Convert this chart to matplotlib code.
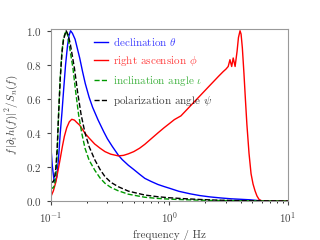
import matplotlib
matplotlib.use("Agg")
import matplotlib.pyplot as plt

plt.rcParams['font.family'] = 'serif'
plt.rcParams['font.serif'] = ['cmr10', 'DejaVu Serif']
plt.rcParams['mathtext.fontset'] = 'cm'
plt.rcParams['axes.formatter.use_mathtext'] = True
plt.rcParams['axes.unicode_minus'] = False

# declination theta
f_dec = [0.1, 0.103, 0.106, 0.109, 0.112, 0.116, 0.12, 0.124, 0.128, 0.133, 0.138, 0.142,
         0.1466, 0.152, 0.16, 0.168, 0.175, 0.185, 0.195, 0.21, 0.225, 0.25, 0.28,
         0.3, 0.33, 0.37, 0.4, 0.45, 0.5, 0.56, 0.62, 0.7, 0.8, 0.9, 1.0, 1.2, 1.5,
         1.8, 2.2, 2.7, 3.3, 4.0, 4.8, 5.5, 6.5, 10.0]
v_dec = [0.32, 0.2, 0.13, 0.11, 0.14, 0.25, 0.4, 0.52, 0.65, 0.8, 0.91, 0.97,
         1.0, 0.985, 0.95, 0.89, 0.84, 0.76, 0.69, 0.61, 0.55, 0.476, 0.405,
         0.365, 0.32, 0.27, 0.243, 0.21, 0.185, 0.157, 0.133, 0.115, 0.097, 0.085, 0.075, 0.057, 0.042,
         0.032, 0.024, 0.018, 0.013, 0.01, 0.007, 0.003, 0.001, 0.0]

# right ascension phi
f_ra = [0.1, 0.105, 0.11, 0.115, 0.12, 0.125, 0.13, 0.136, 0.143, 0.15, 0.158, 0.166,
        0.175, 0.194, 0.21, 0.234, 0.26, 0.286, 0.32, 0.37, 0.41, 0.45, 0.5, 0.56, 0.62,
        0.7, 0.8, 0.9, 1.0, 1.1, 1.25, 1.5, 1.8, 2.2, 2.6, 2.84, 3.0, 3.13, 3.24, 3.35, 3.45, 3.58,
        3.72, 3.82, 3.94, 4.02, 4.12, 4.25, 4.37, 4.5, 4.69, 4.88, 5.07, 5.27, 5.47, 5.69,
        6.0, 10.0]
v_ra = [0.025, 0.06, 0.11, 0.18, 0.25, 0.32, 0.38, 0.43, 0.465, 0.48, 0.475, 0.46,
        0.445, 0.398, 0.37, 0.335, 0.31, 0.29, 0.275, 0.265, 0.268, 0.277, 0.29, 0.31, 0.333,
        0.365, 0.4, 0.43, 0.455, 0.478, 0.5, 0.558, 0.616, 0.68, 0.733, 0.76, 0.775, 0.79, 0.83, 0.79, 0.84, 0.79,
        0.88, 0.96, 1.0, 0.98, 0.9, 0.75, 0.6, 0.45, 0.28, 0.16, 0.1, 0.06, 0.03, 0.01,
        0.0, 0.0]

# inclination angle iota
f_inc = [0.1, 0.104, 0.107, 0.11, 0.113, 0.116, 0.12, 0.124, 0.128, 0.1345, 0.139, 0.144,
         0.1535, 0.162, 0.1714, 0.182, 0.194, 0.21, 0.235, 0.26, 0.286, 0.32, 0.37,
         0.45, 0.62, 0.8, 1.0, 1.3, 1.8, 2.5, 4.0, 6.0, 10.0]
v_inc = [0.08, 0.075, 0.09, 0.15, 0.28, 0.5, 0.73, 0.88, 0.96, 1.0, 0.97, 0.9,
         0.78, 0.64, 0.506, 0.4, 0.31, 0.24, 0.18, 0.135, 0.104, 0.08, 0.06,
         0.04, 0.022, 0.015, 0.011, 0.008, 0.005, 0.003, 0.0015, 0.0005, 0.0]

# polarization angle psi
f_pol = [0.1, 0.104, 0.107, 0.11, 0.113, 0.116, 0.12, 0.124, 0.128, 0.1345, 0.14, 0.146,
         0.158, 0.168, 0.18, 0.194, 0.21, 0.235, 0.26, 0.286, 0.32, 0.37,
         0.45, 0.62, 0.8, 1.0, 1.3, 1.8, 2.5, 4.0, 6.0, 10.0]
v_pol = [0.115, 0.11, 0.13, 0.19, 0.31, 0.5, 0.72, 0.87, 0.95, 1.0, 0.975, 0.92,
         0.78, 0.64, 0.506, 0.4, 0.32, 0.241, 0.185, 0.143, 0.11, 0.084,
         0.058, 0.035, 0.025, 0.019, 0.014, 0.009, 0.005, 0.002, 0.001, 0.0]

labels = [r'declination $\theta$', r'right ascension $\phi$',
          r'inclination angle $\iota$', r'polarization angle $\psi$']
colors = ['#0000ff', '#ff0000', '#009900', '#000000']

fig = plt.figure(figsize=(3.2, 2.4), dpi=100)
ax = fig.add_axes([0.159, 0.1625, 0.741, 0.7165])
ax.plot(f_dec, v_dec, color=colors[0], lw=1.0, label=labels[0])
ax.plot(f_ra, v_ra, color=colors[1], lw=1.0, label=labels[1])
ax.plot(f_inc, v_inc, color=colors[2], lw=1.0, ls='--', label=labels[2])
ax.plot(f_pol, v_pol, color=colors[3], lw=1.0, ls='--', label=labels[3])
ax.set_xscale('log')
ax.set_xlim(0.1, 10)
ax.set_ylim(0, 1.01)
ax.set_yticks([0.0, 0.2, 0.4, 0.6, 0.8, 1.0])
ax.set_xlabel('frequency / Hz', fontsize=8, color='#444444')
ax.set_ylabel(r'$f\,|\partial_i h(f)|^2/S_n(f)$', fontsize=8, color='#444444')
ax.tick_params(labelsize=8, colors='#444444', width=0.8, length=3)
ax.tick_params(which='minor', length=1.5, width=0.6)
for s in ax.spines.values():
    s.set_color('#999999')
leg = ax.legend(loc='upper left', bbox_to_anchor=(0.16, 1.0), frameon=False,
                fontsize=8, handlelength=1.2, handletextpad=0.5, labelspacing=0.55,
                borderaxespad=0.1)
for t, c in zip(leg.get_texts(), colors):
    t.set_color(c)
    t.set_alpha(0.75)
fig.savefig('out.png', dpi=100)
